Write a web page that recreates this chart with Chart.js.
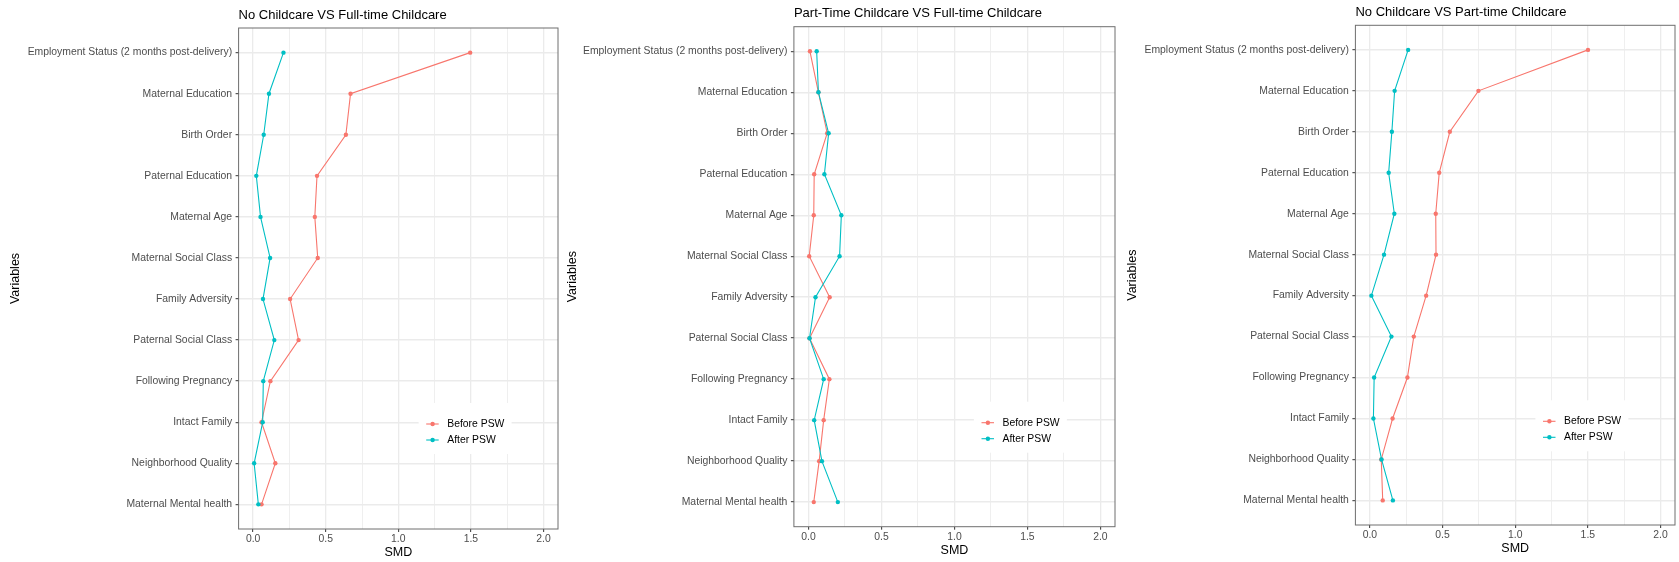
<!DOCTYPE html>
<html>
<head>
<meta charset="utf-8">
<title>Covariate balance before and after PSW</title>
<script src="https://cdn.jsdelivr.net/npm/chart.js@4.4.1/dist/chart.umd.min.js"></script>
<style>
  html, body { margin: 0; padding: 0; background: #ffffff; }
  #wrap { position: relative; width: 1679px; height: 562px; overflow: hidden; }
  #wrap canvas { position: absolute; top: 0; }
</style>
</head>
<body>
<div id="wrap">
  <canvas id="noVsFull"></canvas>
  <canvas id="partVsFull"></canvas>
  <canvas id="noVsPart"></canvas>
</div>
<script>
// Covariates, listed top to bottom
const variables = [
    'Employment Status (2 months post-delivery)',
    'Maternal Education',
    'Birth Order',
    'Paternal Education',
    'Maternal Age',
    'Maternal Social Class',
    'Family Adversity',
    'Paternal Social Class',
    'Following Pregnancy',
    'Intact Family',
    'Neighborhood Quality',
    'Maternal Mental health'
];

// Standardised mean differences per comparison
const beforeNoVsFull = [1.495, 0.671, 0.639, 0.440, 0.425, 0.445, 0.255, 0.313, 0.119, 0.058, 0.153, 0.058];
const afterNoVsFull = [0.209, 0.109, 0.073, 0.022, 0.051, 0.117, 0.068, 0.146, 0.070, 0.066, 0.007, 0.036];

const beforePartVsFull = [0.010, 0.068, 0.128, 0.039, 0.036, 0.005, 0.145, 0.007, 0.143, 0.104, 0.073, 0.036];
const afterPartVsFull = [0.056, 0.068, 0.138, 0.109, 0.225, 0.213, 0.048, 0.007, 0.104, 0.039, 0.092, 0.201];

const beforeNoVsPart = [1.501, 0.747, 0.550, 0.477, 0.453, 0.455, 0.387, 0.302, 0.258, 0.156, 0.078, 0.088];
const afterNoVsPart = [0.263, 0.170, 0.151, 0.129, 0.168, 0.097, 0.010, 0.148, 0.029, 0.024, 0.080, 0.158];

const smdTicks = [0, 0.25, 0.5, 0.75, 1.0, 1.25, 1.5, 1.75, 2.0];
const seriesLabels = ['Before PSW', 'After PSW'];

const FONT = '"Liberation Sans", Arial, Helvetica, sans-serif';
const CANVAS_H = 562;
const RED = '#F8766D';
const CYAN = '#00BFC4';

// where each panel sits on the page
const panels = [
    { id: 'noVsFull', title: 'No Childcare VS Full-time Childcare', before: beforeNoVsFull, after: afterNoVsFull,
      canvasLeft: 0, canvasWidth: 562, left: 238.6, right: 560.7, top: 28, bottom: 529, titleMid: 15.3, yTitleX: 16 },
    { id: 'partVsFull', title: 'Part-Time Childcare VS Full-time Childcare', before: beforePartVsFull, after: afterPartVsFull,
      canvasLeft: 560, canvasWidth: 559, left: 793.9, right: 1117.3, top: 26.7, bottom: 526.7, titleMid: 13.3, yTitleX: 573 },
    { id: 'noVsPart', title: 'No Childcare VS Part-time Childcare', before: beforeNoVsPart, after: afterNoVsPart,
      canvasLeft: 1119, canvasWidth: 560, left: 1355.4, right: 1678.3, top: 25.3, bottom: 525, titleMid: 12.3, yTitleX: 1132.5 }
];

const isMajor = (v) => Math.abs(v * 2 - Math.round(v * 2)) < 1e-6;

// panel border drawn over the plotting area
const panelFrame = {
    id: 'panelFrame',
    afterDatasetsDraw(chart) {
        const { ctx, chartArea: a } = chart;
        ctx.save();
        ctx.strokeStyle = '#6e6e6e';
        ctx.lineWidth = 1;
        ctx.strokeRect(a.left, a.top, a.right - a.left, a.bottom - a.top);
        ctx.restore();
    }
};

// legend placed inside the panel, ggplot style
const insideLegend = {
    id: 'insideLegend',
    afterDraw(chart) {
        const { ctx, chartArea: a } = chart;
        const px = a.left + 194;
        const rows = [a.top + 396, a.top + 412];
        ctx.save();
        ctx.fillStyle = '#ffffff';
        ctx.fillRect(a.left + 180, a.top + 375, 93, 51);
        ctx.font = '10.4px ' + FONT;
        ctx.textBaseline = 'middle';
        chart.data.datasets.forEach((ds, i) => {
            const y = rows[i];
            ctx.strokeStyle = ds.borderColor;
            ctx.lineWidth = 1.1;
            ctx.beginPath();
            ctx.moveTo(px - 6.4, y);
            ctx.lineTo(px + 6.1, y);
            ctx.stroke();
            ctx.fillStyle = ds.borderColor;
            ctx.beginPath();
            ctx.arc(px, y, 2.2, 0, Math.PI * 2);
            ctx.fill();
            ctx.fillStyle = '#000000';
            ctx.fillText(ds.label, px + 14.6, y);
        });
        ctx.restore();
    }
};

function buildPanel(p) {
    const canvas = document.getElementById(p.id);
    canvas.width = p.canvasWidth;
    canvas.height = CANVAS_H;
    canvas.style.left = p.canvasLeft + 'px';

    const series = (values) => values.map((v, i) => ({ x: v, y: i }));

    new Chart(canvas.getContext('2d'), {
        type: 'line',
        data: {
            datasets: [
                { label: seriesLabels[0], data: series(p.before), borderColor: RED, backgroundColor: RED, order: 1 },
                { label: seriesLabels[1], data: series(p.after), borderColor: CYAN, backgroundColor: CYAN, order: 0 }
            ]
        },
        options: {
            responsive: false,
            animation: false,
            events: [],
            indexAxis: 'y',
            layout: {
                padding: { left: 0, top: 0, bottom: 0, right: p.canvasWidth - (p.right - p.canvasLeft) }
            },
            elements: {
                line: { borderWidth: 1.1, tension: 0 },
                point: { radius: 2.2, borderWidth: 0 }
            },
            plugins: {
                legend: { display: false },
                tooltip: { enabled: false },
                title: {
                    display: true,
                    text: p.title,
                    align: 'start',
                    fullSize: false,
                    color: '#000000',
                    font: { family: FONT, size: 13, weight: 'normal' },
                    padding: { top: p.titleMid - 7.8, bottom: p.top - p.titleMid - 7.8 }
                }
            },
            scales: {
                x: {
                    type: 'linear',
                    min: -0.1,
                    max: 2.1,
                    afterBuildTicks: (axis) => { axis.ticks = smdTicks.map(v => ({ value: v })); },
                    afterFit: (axis) => { axis.height = CANVAS_H - p.bottom; },
                    border: { display: false },
                    grid: {
                        color: '#EBEBEB',
                        lineWidth: (c) => isMajor(c.tick.value) ? 1.3 : 0.8,
                        tickColor: (c) => isMajor(c.tick.value) ? '#333333' : 'rgba(0,0,0,0)',
                        tickLength: 3,
                        tickWidth: 1
                    },
                    ticks: {
                        autoSkip: false,
                        maxRotation: 0,
                        padding: 1,
                        color: '#4D4D4D',
                        font: { family: FONT, size: 10.4 },
                        callback: (v) => isMajor(v) ? Number(v).toFixed(1) : ''
                    },
                    title: {
                        display: true,
                        text: 'SMD',
                        color: '#000000',
                        font: { family: FONT, size: 12.5 },
                        padding: { top: 0, bottom: CANVAS_H - p.bottom - 23.5 - 7.5 }
                    }
                },
                y: {
                    type: 'linear',
                    min: -0.6,
                    max: variables.length - 0.4,
                    reverse: true,
                    afterBuildTicks: (axis) => { axis.ticks = variables.map((_, i) => ({ value: i })); },
                    afterFit: (axis) => { axis.width = p.left - p.canvasLeft; },
                    border: { display: false },
                    grid: {
                        color: '#EBEBEB',
                        lineWidth: 1.4,
                        tickColor: '#333333',
                        tickLength: 3,
                        tickWidth: 1
                    },
                    ticks: {
                        autoSkip: false,
                        padding: 3.5,
                        color: '#4D4D4D',
                        font: { family: FONT, size: 10.4 },
                        callback: (v) => variables[v]
                    },
                    title: {
                        display: true,
                        text: 'Variables',
                        color: '#000000',
                        font: { family: FONT, size: 12.5 },
                        padding: { top: p.yTitleX - p.canvasLeft - 7.5, bottom: 0 }
                    }
                }
            }
        },
        plugins: [panelFrame, insideLegend]
    });
}

document.addEventListener('DOMContentLoaded', () => {
    panels.forEach(buildPanel);
});
</script>
</body>
</html>
